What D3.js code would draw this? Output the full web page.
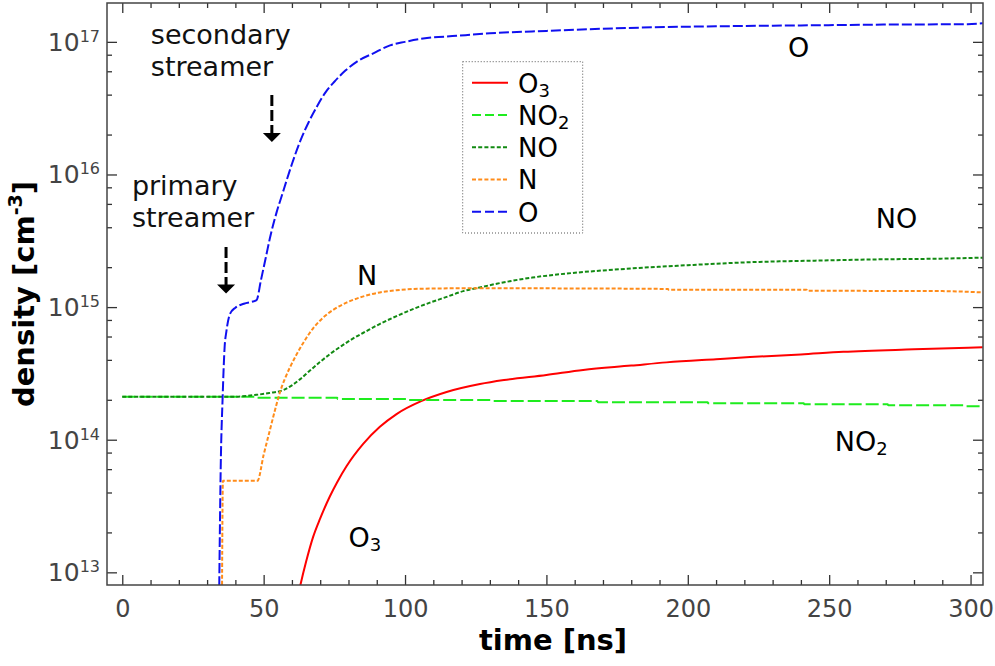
<!DOCTYPE html>
<html><head><meta charset="utf-8">
<script src="https://cdn.jsdelivr.net/npm/d3@7"></script>
<style>body{margin:0;background:#fff} svg{display:block;font-family:"DejaVu Sans",sans-serif}</style>
</head><body><svg id="chart" width="995" height="666"></svg>
<script>
// ---- data ----
const o3Time    = [62.0, 63.1, 65, 67.5, 70, 73.4, 76, 79.3, 85.2, 91.1, 97, 105.9, 114.7, 126.5, 135, 150, 163, 180, 192.5, 210, 222, 240, 255, 280, 304.3];
const o3Density = [6.4e12, 8.2e12, 1.2e13, 1.85e13, 2.55e13, 3.73e13, 4.78e13, 6.3e13, 9.29e13, 1.25e14, 1.56e14, 1.96e14, 2.29e14, 2.63e14, 2.82e14, 3.08e14, 3.36e14, 3.62e14, 3.83e14, 4.05e14, 4.2e14, 4.4e14, 4.6e14, 4.8e14, 4.97e14];

const no2Time    = [0, 47.3, 47.5, 76, 76.2, 100.6, 100.8, 131, 131.2, 168, 168.2, 207, 207.2, 241, 241.2, 270.7, 270.9, 298, 298.2, 304.3];
const no2Density = [2.11e14, 2.11e14, 2.07e14, 2.07e14, 2.03e14, 2.03e14, 1.99e14, 1.99e14, 1.96e14, 1.96e14, 1.92e14, 1.92e14, 1.88e14, 1.88e14, 1.85e14, 1.85e14, 1.82e14, 1.82e14, 1.79e14, 1.79e14];

const noTime    = [0, 39, 44, 47.5, 52, 57, 60, 62.8, 66, 69.9, 73.4, 77, 81, 86.4, 91, 97, 103, 108.8, 115, 120.6, 126, 132.4, 145, 157.1, 170, 180.7, 200, 221.9, 245, 267, 290, 304.3];
const noDensity = [2.11e14, 2.11e14, 2.14e14, 2.18e14, 2.25e14, 2.37e14, 2.57e14, 2.85e14, 3.27e14, 3.85e14, 4.42e14, 5.0e14, 5.69e14, 6.6e14, 7.45e14, 8.55e14, 9.7e14, 1.08e15, 1.2e15, 1.32e15, 1.4e15, 1.5e15, 1.67e15, 1.79e15, 1.89e15, 1.96e15, 2.07e15, 2.18e15, 2.24e15, 2.29e15, 2.32e15, 2.36e15];

const nTime    = [35.1, 35.6, 47.8, 50, 52.2, 54, 55.8, 57.5, 59.3, 61.7, 64, 67.5, 71.1, 75, 79.3, 85, 91.1, 97, 102.9, 115, 126.5, 150, 193, 193.2, 242, 242.2, 290, 304.3];
const nDensity = [1e12, 4.9e13, 4.9e13, 7.7e13, 1.18e14, 1.67e14, 2.29e14, 2.88e14, 3.51e14, 4.42e14, 5.37e14, 6.92e14, 8.36e14, 9.66e14, 1.08e15, 1.2e15, 1.29e15, 1.34e15, 1.37e15, 1.385e15, 1.39e15, 1.385e15, 1.37e15, 1.35e15, 1.35e15, 1.33e15, 1.32e15, 1.29e15];

const oTime    = [34.2, 34.8, 35.5, 36.2, 36.8, 38.1, 40, 43, 47.5, 49, 51, 52.2, 54.6, 56.5, 58.1, 60, 63, 66, 69, 72, 75, 79, 83, 88.8, 94.7, 100, 106.4, 118.2, 130, 150, 183, 210, 240, 270, 299, 304.3];
const oDensity = [5e12, 5.9e13, 2.1e14, 5.0e14, 6.5e14, 8.9e14, 9.9e14, 1.06e15, 1.13e15, 1.58e15, 2.5e15, 3.3e15, 5.2e15, 7.0e15, 9.0e15, 1.2e16, 1.8e16, 2.5e16, 3.3e16, 4.2e16, 5.0e16, 6.1e16, 7.1e16, 8.2e16, 9.4e16, 1.0e17, 1.06e17, 1.11e17, 1.16e17, 1.21e17, 1.28e17, 1.31e17, 1.33e17, 1.35e17, 1.36e17, 1.38e17];

const seriesNames = ["O3", "NO2", "NO", "N", "O"];
const xMajorTicks = [0, 50, 100, 150, 200, 250, 300];
const xMinorStep = 10;
const yMajorExponents = [13, 14, 15, 16, 17];
const yMinorMultipliers = [2, 4, 6, 8];

// ---- styles ----
const styles = {
  O3:  {color: "#ff0000", dash: null,    legendDash: null},
  NO2: {color: "#1eec1e", dash: "13,4",  legendDash: "9,4"},
  NO:  {color: "#128a12", dash: "4,2",   legendDash: "4,2.2"},
  N:   {color: "#ff8c1a", dash: "4,2",   legendDash: "4,2.2"},
  O:   {color: "#1010f0", dash: "10,3",  legendDash: "9,4"}
};
const seriesData = {
  O3: d3.zip(o3Time, o3Density),
  NO2: d3.zip(no2Time, no2Density),
  NO: d3.zip(noTime, noDensity),
  N: d3.zip(nTime, nDensity),
  O: d3.zip(oTime, oDensity)
};

const L = 107, R = 983, T = 3, B = 585;
const svg = d3.select("#chart");
const x = d3.scaleLinear().domain([-5.4, 304.4]).range([L, R]);
const y = d3.scaleLog().domain([Math.pow(10, 12.9045), Math.pow(10, 17.293)]).range([B, T]);

// ---- ticks ----
const xMinor = d3.range(0, 305, xMinorStep).filter(v => !xMajorTicks.includes(v));
const [yLo, yHi] = y.domain();
const yMinor = [];
for (let e = 12; e <= 17; e++) yMinorMultipliers.forEach(m => { const v = m * Math.pow(10, e); if (v > yLo && v < yHi) yMinor.push(v); });
const yMajor = yMajorExponents.map(e => Math.pow(10, e));

function styleAxis(g) {
  g.select(".domain").remove();
  g.selectAll(".tick line").attr("stroke", "#333").attr("stroke-width", 1.3);
}
const tickFont = "24px";
// bottom
svg.append("g").attr("transform", `translate(0,${B})`)
  .call(d3.axisBottom(x).tickValues(xMajorTicks).tickSizeInner(-10).tickSizeOuter(0).tickPadding(15))
  .call(styleAxis)
  .call(g => g.selectAll("text").attr("font-size", tickFont).attr("fill", "#444").attr("font-family", '"DejaVu Sans",sans-serif'));
svg.append("g").attr("transform", `translate(0,${B})`)
  .call(d3.axisBottom(x).tickValues(xMinor).tickSizeInner(-5).tickSizeOuter(0).tickFormat(""))
  .call(styleAxis);
// top
svg.append("g").attr("transform", `translate(0,${T})`)
  .call(d3.axisTop(x).tickValues(xMajorTicks).tickSizeInner(-10).tickSizeOuter(0).tickFormat(""))
  .call(styleAxis);
svg.append("g").attr("transform", `translate(0,${T})`)
  .call(d3.axisTop(x).tickValues(xMinor).tickSizeInner(-5).tickSizeOuter(0).tickFormat(""))
  .call(styleAxis);
// left / right
[[d3.axisLeft, L], [d3.axisRight, R]].forEach(([ax, pos]) => {
  svg.append("g").attr("transform", `translate(${pos},0)`)
    .call(ax(y).tickValues(yMajor).tickSizeInner(-10).tickSizeOuter(0).tickFormat(""))
    .call(styleAxis);
  svg.append("g").attr("transform", `translate(${pos},0)`)
    .call(ax(y).tickValues(yMinor).tickSizeInner(-5).tickSizeOuter(0).tickFormat(""))
    .call(styleAxis);
});
// y labels with superscripts
const yl = svg.append("g").selectAll("text").data(yMajorExponents).join("text")
  .attr("x", L - 7).attr("y", e => y(Math.pow(10, e)) + 9)
  .attr("text-anchor", "end").attr("fill", "#444").attr("font-size", 25);
yl.append("tspan").text("10");
yl.append("tspan").attr("font-size", 16).attr("dy", -9).text(e => e);

// ---- lines ----
svg.append("clipPath").attr("id", "clip").append("rect")
  .attr("x", L).attr("y", T).attr("width", R - L).attr("height", B - T);
const line = d3.line().x(d => x(d[0])).y(d => y(d[1])).curve(d3.curveMonotoneX);
const plot = svg.append("g").attr("clip-path", "url(#clip)");
seriesNames.forEach(n => {
  plot.append("path").datum(seriesData[n])
    .attr("d", line).attr("fill", "none")
    .attr("stroke", styles[n].color).attr("stroke-width", 2)
    .attr("stroke-dasharray", styles[n].dash);
});

// frame
svg.append("rect").attr("x", L).attr("y", T).attr("width", R - L).attr("height", B - T)
  .attr("fill", "none").attr("stroke", "#444").attr("stroke-width", 1.5);

// ---- axis titles ----
svg.append("text").attr("x", 553).attr("y", 650).attr("text-anchor", "middle")
  .attr("font-size", 29).attr("font-weight", "bold").attr("fill", "#000").text("time [ns]");
const yt = svg.append("text").attr("transform", "translate(34,294) rotate(-90)")
  .attr("text-anchor", "middle").attr("font-size", 29).attr("font-weight", "bold").attr("fill", "#000");
yt.append("tspan").text("density [cm");
yt.append("tspan").attr("font-size", 19).attr("dy", -12).text("-3");
yt.append("tspan").attr("dy", 12).text("]");

// ---- legend ----
const legendLabels = {O3: ["O", "3"], NO2: ["NO", "2"], NO: ["NO", ""], N: ["N", ""], O: ["O", ""]};
svg.append("rect").attr("x", 462.7).attr("y", 61.7).attr("width", 120).attr("height", 171.3)
  .attr("fill", "#fff").attr("stroke", "#555").attr("stroke-width", 1).attr("stroke-dasharray", "1,2");
seriesNames.forEach((n, i) => {
  const ly = 82.7 + i * 32.25;
  svg.append("line").attr("x1", 472).attr("x2", 508).attr("y1", ly).attr("y2", ly)
    .attr("stroke", styles[n].color).attr("stroke-width", 2).attr("stroke-dasharray", styles[n].legendDash);
  const t = svg.append("text").attr("x", 518).attr("y", ly + 10).attr("font-size", 26).attr("fill", "#000");
  t.append("tspan").text(legendLabels[n][0]);
  if (legendLabels[n][1]) t.append("tspan").attr("font-size", 18).attr("dy", 4).text(legendLabels[n][1]);
});

// ---- curve labels ----
const curveLabels = [
  {main: "O", sub: "", t: 235.4, v: Math.pow(10, 17 - 15 / 132.6)},
  {main: "NO", sub: "", t: 266.5, v: Math.pow(10, 15 + (307.3 - 228) / 132.6)},
  {main: "N", sub: "", t: 83, v: Math.pow(10, 15 + (307.3 - 285) / 132.6)},
  {main: "NO", sub: "2", t: 252, v: Math.pow(10, 14 - (451 - 439.3) / 132.6)},
  {main: "O", sub: "3", t: 80, v: Math.pow(10, 13 + (572.3 - 547) / 132.6)}
];
curveLabels.forEach(c => {
  const t = svg.append("text").attr("x", x(c.t)).attr("y", y(c.v)).attr("font-size", 27).attr("fill", "#000");
  t.append("tspan").text(c.main);
  if (c.sub) t.append("tspan").attr("font-size", 18).attr("dy", 4).text(c.sub);
});

// ---- streamer annotations ----
const notes = [
  {lines: ["secondary", "streamer"], tx: 10.1, ty: 43.5, arrowT: 52.9, y0: 95, y1: 142},
  {lines: ["primary", "streamer"], tx: 3.4, ty: 195, arrowT: 36.7, y0: 247, y1: 293.5}
];
notes.forEach(nt => {
  const t = svg.append("text").attr("font-size", 27).attr("fill", "#111");
  nt.lines.forEach((s, i) => t.append("tspan").attr("x", x(nt.tx)).attr("y", nt.ty + i * 32).text(s));
  const ax = x(nt.arrowT);
  svg.append("line").attr("x1", ax).attr("x2", ax).attr("y1", nt.y0).attr("y2", nt.y1 - 8)
    .attr("stroke", "#000").attr("stroke-width", 3).attr("stroke-dasharray", "11,4");
  svg.append("path").attr("d", `M${ax - 9},${nt.y1 - 9}L${ax + 9},${nt.y1 - 9}L${ax},${nt.y1}Z`).attr("fill", "#000");
});
</script></body></html>
